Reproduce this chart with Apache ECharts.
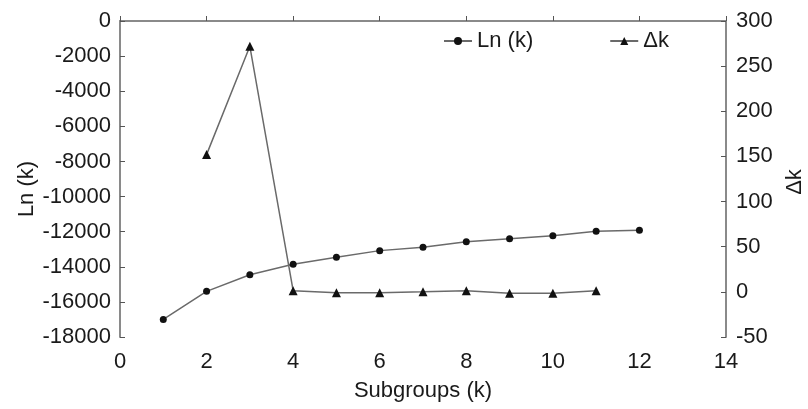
<!DOCTYPE html>
<html><head><meta charset="utf-8">
<script src="https://cdn.jsdelivr.net/npm/echarts@6/dist/echarts.min.js"></script>
<style>html,body{margin:0;padding:0;background:#fff}#c{width:808px;height:409px}</style>
</head><body><div id="c"></div>
<script>
const kLn = [1,2,3,4,5,6,7,8,9,10,11,12];
const lnValues = [-17000,-15400,-14450,-13860,-13460,-13080,-12890,-12570,-12400,-12230,-11980,-11920];
const kDelta = [2,3,4,5,6,7,8,9,10,11];
const deltaValues = [152,272,1.3,-0.9,-0.9,0,1.3,-1.6,-1.6,1.3];
const xTicks = [0,2,4,6,8,10,12,14];

const font = 'Liberation Sans, Arial, sans-serif';
const txt = '#1a1a1a';
const fs = 22;
const plain = v => String(v);
const chart = echarts.init(document.getElementById('c'));
chart.setOption({
  animation:false,
  backgroundColor:'#fff',
  textStyle:{fontFamily:font},
  grid:{left:120,right:82,top:21,bottom:72,containLabel:false,outerBoundsMode:'none'},
  legend:{
    top:25,left:438,itemGap:76,itemWidth:28,itemHeight:10,
    textStyle:{fontSize:fs,color:txt,fontFamily:font},
    data:['Ln (k)','\u0394k']
  },
  xAxis:{
    type:'value',min:0,max:14,interval:2,
    name:'Subgroups (k)',nameLocation:'middle',nameGap:43,nameMoveOverlap:false,
    nameTextStyle:{fontSize:fs,color:txt},
    axisLine:{lineStyle:{color:'#8a8a8a',width:2}},
    axisTick:{inside:true,length:5,lineStyle:{color:'#555'}},
    axisLabel:{fontSize:fs,color:txt,margin:14,formatter:plain},
    splitLine:{show:false}
  },
  yAxis:[{
    type:'value',min:-18000,max:0,interval:2000,position:'left',
    name:'Ln (k)',nameLocation:'middle',nameGap:76,nameRotate:90,nameMoveOverlap:false,
    nameTextStyle:{fontSize:fs,color:txt,backgroundColor:'#fff',padding:[0,20,6,0]},
    axisLine:{show:true,lineStyle:{color:'#8a8a8a',width:2}},
    axisTick:{show:true,inside:true,length:5,lineStyle:{color:'#555'}},
    axisLabel:{fontSize:fs,color:txt,margin:9,formatter:plain},
    splitLine:{show:false}
  },{
    type:'value',min:-50,max:300,interval:50,position:'right',
    name:'\u0394k',nameLocation:'middle',nameGap:58,nameRotate:90,nameMoveOverlap:false,
    nameTextStyle:{fontSize:fs,color:txt,padding:[0,6,0,0]},
    axisLine:{show:true,lineStyle:{color:'#8a8a8a',width:2}},
    axisTick:{show:true,inside:true,length:5,lineStyle:{color:'#555'}},
    axisLabel:{fontSize:fs,color:txt,margin:10,formatter:plain},
    splitLine:{show:false}
  }],
  series:[{
    name:'Ln (k)',type:'line',yAxisIndex:0,
    data:kLn.map((k,i)=>[k,lnValues[i]]),
    symbol:'circle',symbolSize:7,
    lineStyle:{color:'#6a6a6a',width:1.5},
    itemStyle:{color:'#111'}
  },{
    name:'\u0394k',type:'line',yAxisIndex:1,
    data:kDelta.map((k,i)=>[k,deltaValues[i]]),
    symbol:'triangle',symbolSize:9,
    lineStyle:{color:'#6a6a6a',width:1.5},
    itemStyle:{color:'#111'}
  }]
});
</script></body></html>
